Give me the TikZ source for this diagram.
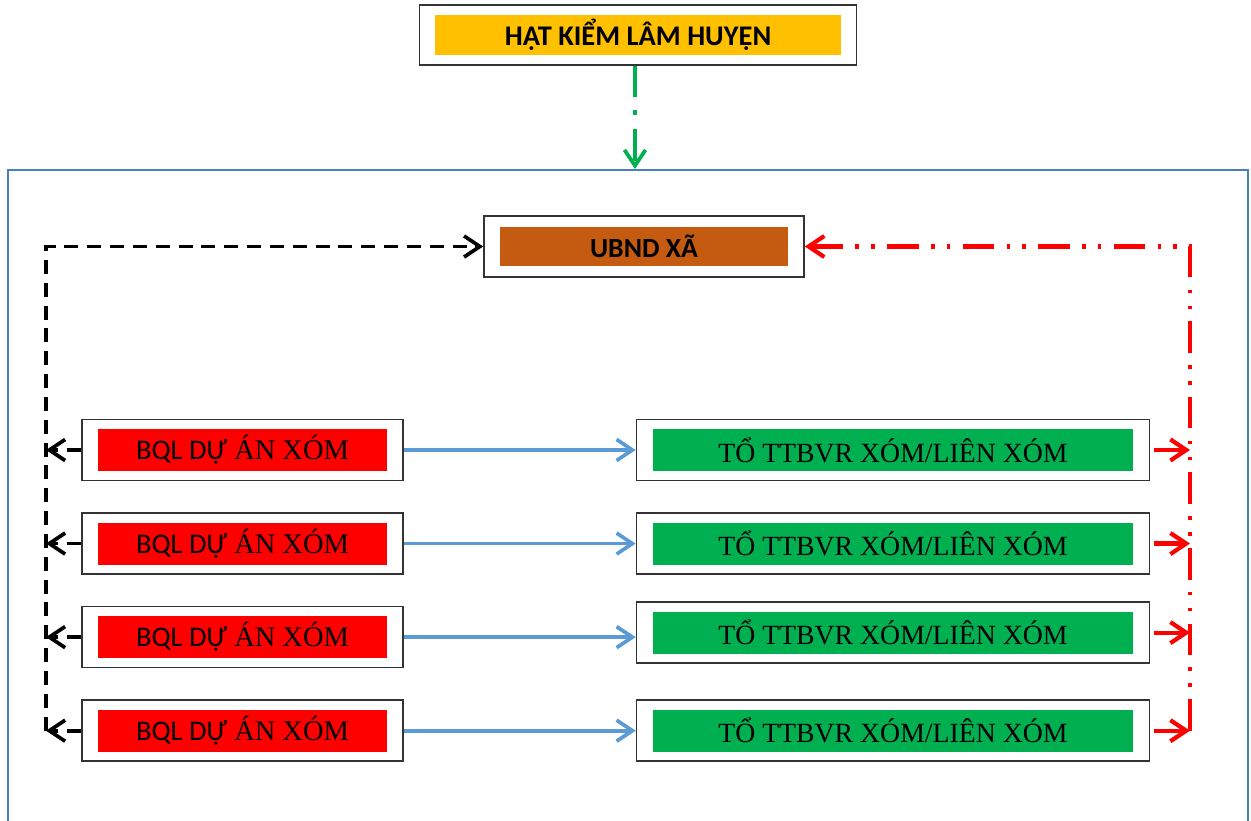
\documentclass[tikz,border=0pt]{standalone}
\usepackage{fontspec}
\setmainfont{Liberation Serif}
\newfontfamily\calibri{Carlito}
\usetikzlibrary{arrows.meta, positioning}

\definecolor{hatyellow}{HTML}{FFC000}
\definecolor{ubndbrown}{HTML}{C55A11}
\definecolor{xomred}{HTML}{FF0000}
\definecolor{togreen}{HTML}{00B050}
\definecolor{linkblue}{HTML}{5B9BD5}
\definecolor{areablue}{HTML}{4A7EBB}

\begin{document}
\begin{tikzpicture}[
    x=0.02cm, y=-0.02cm,
    node distance=0.62cm and 4.64cm,
    outerbox/.style={
        draw=black!80,
        fill=white,
        line width=0.9pt,
        inner sep=0pt
    },
    topbox/.style={outerbox, minimum width=8.74cm, minimum height=1.2cm},
    ubndbox/.style={outerbox, minimum width=6.4cm, minimum height=1.22cm},
    bqlbox/.style={outerbox, minimum width=6.42cm, minimum height=1.22cm},
    tobox/.style={outerbox, minimum width=10.26cm, minimum height=1.22cm},
    topfill/.style={
        fill=hatyellow,
        inner sep=0pt,
        minimum width=8.12cm,
        minimum height=0.8cm,
        font=\calibri\bfseries\fontsize{16.2}{19}\selectfont
    },
    ubndfill/.style={
        fill=ubndbrown,
        inner sep=0pt,
        minimum width=5.76cm,
        minimum height=0.8cm,
        font=\calibri\bfseries\fontsize{15.8}{19}\selectfont
    },
    bqlfill/.style={
        fill=xomred,
        inner sep=0pt,
        minimum width=5.78cm,
        minimum height=0.84cm,
        font=\fontsize{16.2}{19}\selectfont
    },
    tofill/.style={
        fill=togreen,
        inner sep=0pt,
        minimum width=9.62cm,
        minimum height=0.84cm,
        font=\fontsize{15.8}{19}\selectfont
    },
    area/.style={
        draw=areablue,
        line width=1.2pt,
        minimum width=24.8cm,
        minimum height=13.4cm
    },
    blueline/.style={
        -{Straight Barb[length=9pt, width=12pt]},
        draw=linkblue,
        line width=2.1pt
    },
    blackdash/.style={
        -{Straight Barb[length=9pt, width=12pt]},
        black,
        line width=2.1pt,
        dash pattern=on 8pt off 5pt
    },
    reddash/.style={
        -{Straight Barb[length=9pt, width=12pt]},
        xomred,
        line width=2.4pt,
        dash pattern=on 18pt off 7pt on 2pt off 7pt on 2pt off 7pt
    },
    greendash/.style={
        -{Straight Barb[length=9pt, width=12pt]},
        togreen,
        line width=2.1pt,
        dash pattern=on 18pt off 7pt on 3pt off 8pt
    }
]
\useasboundingbox (0,0) rectangle (1251,821);

% Outer area
\node[area] (commune) at (628,505) {};

% Top
\node[topbox] (hat) at (638,35) {};
\node[topfill] (hattext) at (hat) {HẠT KIỂM LÂM HUYỆN};

\node[ubndbox] (ubnd) at (644,246.5) {};
\node[ubndfill] (ubndtext) at (ubnd) {UBND XÃ};

% Left column
\node[bqlbox] (bql1) at (242.5,450) {};
\node[bqlbox, below=of bql1] (bql2) {};
\node[bqlbox, below=of bql2] (bql3) {};
\node[bqlbox, below=of bql3] (bql4) {};
\node[bqlfill] (bql1text) at (bql1) {{\calibri BQL DỰ} ÁN XÓM};
\node[bqlfill] (bql2text) at (bql2) {{\calibri BQL DỰ} ÁN XÓM};
\node[bqlfill] (bql3text) at (bql3) {{\calibri BQL DỰ} ÁN XÓM};
\node[bqlfill] (bql4text) at (bql4) {{\calibri BQL DỰ} ÁN XÓM};

% Right column
\node[tobox, right=of bql1] (to1) {};
\node[tobox, right=of bql2] (to2) {};
\node[tobox, right=of bql3, yshift=0.09cm] (to3) {};
\node[tobox, right=of bql4] (to4) {};
\node[tofill] (to1text) at (to1) {TỔ TTBVR XÓM/LIÊN XÓM};
\node[tofill] (to2text) at (to2) {TỔ TTBVR XÓM/LIÊN XÓM};
\node[tofill] (to3text) at (to3) {TỔ TTBVR XÓM/LIÊN XÓM};
\node[tofill] (to4text) at (to4) {TỔ TTBVR XÓM/LIÊN XÓM};

% Bus lines
\coordinate (lbus) at (46,250);
\coordinate (rbus) at (1190,250);

% District to commune
\draw[greendash] ([xshift=-0.06cm]hat.south) -- ([xshift=-0.06cm]hat.south |- commune.north);

% BQL to UBND
\draw[blackdash] (lbus |- bql4.west) |- (ubnd.west);
\draw[blackdash] (bql1.west) -- (bql1.west -| lbus);
\draw[blackdash] (bql2.west) -- (bql2.west -| lbus);
\draw[blackdash] (bql3.west) -- (bql3.west -| lbus);
\draw[blackdash] (bql4.west) -- (bql4.west -| lbus);

% BQL to teams
\draw[blueline] (bql1.east) -- (bql1.east -| to1.west);
\draw[blueline] (bql2.east) -- (bql2.east -| to2.west);
\draw[blueline] (bql3.east) -- (bql3.east -| to3.west);
\draw[blueline] (bql4.east) -- (bql4.east -| to4.west);

% Teams to UBND
\draw[reddash] (rbus |- to4.east) |- (ubnd.east);
\draw[reddash, shorten <=2pt] (to1.east) -- (to1.east -| rbus);
\draw[reddash, shorten <=2pt] (to2.east) -- (to2.east -| rbus);
\draw[reddash, shorten <=2pt] (to3.east) -- (to3.east -| rbus);
\draw[reddash, shorten <=2pt] (to4.east) -- (to4.east -| rbus);

\end{tikzpicture}
\end{document}
